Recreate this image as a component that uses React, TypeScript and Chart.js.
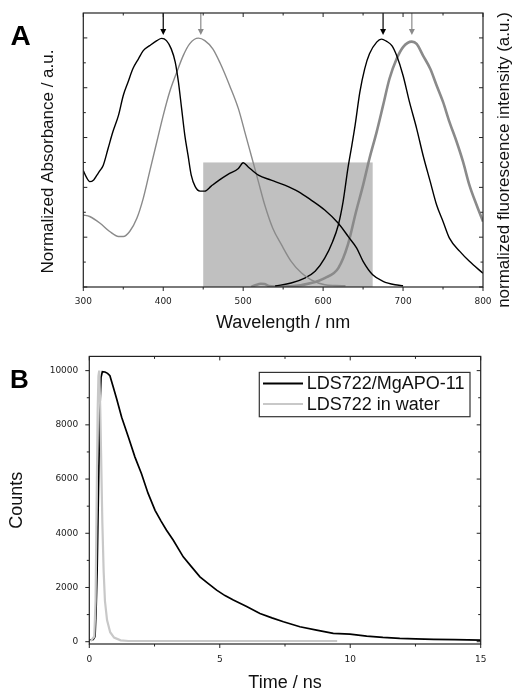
import React, { useEffect, useRef } from "react";
import { Chart, registerables } from "chart.js";

Chart.register(...registerables);

const FONT = "'Liberation Sans', Arial, sans-serif";
const TICK_FONT = "'DejaVu Sans', sans-serif";

// ---------------- Panel A data ----------------
const WL_TICKS = [300, 400, 500, 600, 700, 800];
const WL_MINOR = [350, 450, 550, 650, 750];
const NORM_TICKS = [0, 0.2, 0.4, 0.6, 0.8, 1.0];
const NORM_MINOR = [0.1, 0.3, 0.5, 0.7, 0.9];

const ABS_MG_NM = [300, 304, 308, 313, 317, 321, 325, 331, 337, 344, 350, 356, 362, 369, 375, 383, 392, 398, 404, 410, 415, 419, 423, 427, 431, 435, 440, 446, 452, 460, 470, 481, 494, 500, 506, 519, 535, 552, 569, 585, 602, 619, 632, 642, 650, 662, 675, 690, 700];
const ABS_MG_VAL = [0.467, 0.44, 0.423, 0.43, 0.449, 0.468, 0.489, 0.556, 0.623, 0.689, 0.769, 0.823, 0.876, 0.916, 0.949, 0.969, 0.989, 0.998, 0.989, 0.956, 0.903, 0.823, 0.716, 0.609, 0.529, 0.449, 0.403, 0.385, 0.385, 0.405, 0.429, 0.452, 0.476, 0.499, 0.483, 0.449, 0.429, 0.409, 0.383, 0.349, 0.309, 0.256, 0.2, 0.156, 0.103, 0.049, 0.023, 0.009, 0.005];

const ABS_W_NM = [300, 308, 321, 333, 344, 350, 358, 367, 375, 383, 392, 400, 408, 417, 425, 433, 444, 452, 462, 471, 483, 494, 502, 510, 519, 527, 537, 548, 560, 573, 585, 602, 615, 628];
const ABS_W_VAL = [0.289, 0.283, 0.256, 0.223, 0.203, 0.203, 0.223, 0.276, 0.356, 0.463, 0.583, 0.689, 0.783, 0.863, 0.929, 0.976, 0.999, 0.989, 0.956, 0.9, 0.809, 0.716, 0.623, 0.529, 0.423, 0.329, 0.236, 0.169, 0.103, 0.056, 0.029, 0.009, 0.006, 0.005];

const EM_MG_NM = [540, 560, 577, 590, 602, 612, 619, 625, 631, 636, 640, 646, 652, 658, 667, 673, 679, 686, 692, 700, 708, 717, 725, 734, 742, 750, 758, 771, 783, 800];
const EM_MG_VAL = [0.004, 0.016, 0.036, 0.063, 0.116, 0.183, 0.249, 0.343, 0.476, 0.57, 0.649, 0.783, 0.876, 0.936, 0.983, 0.995, 0.987, 0.969, 0.929, 0.849, 0.743, 0.636, 0.529, 0.423, 0.329, 0.263, 0.196, 0.143, 0.103, 0.055];

const EM_W_NM = [510, 516, 522, 527, 532, 540, 560, 585, 602, 619, 631, 641, 650, 658, 667, 675, 683, 692, 700, 711, 717, 725, 734, 742, 750, 758, 767, 775, 783, 792, 800];
const EM_W_VAL = [0.0, 0.008, 0.013, 0.012, 0.004, 0.002, 0.003, 0.016, 0.036, 0.076, 0.17, 0.3, 0.409, 0.516, 0.623, 0.729, 0.836, 0.916, 0.963, 0.985, 0.976, 0.929, 0.876, 0.809, 0.743, 0.663, 0.583, 0.503, 0.409, 0.329, 0.263];

const ARROWS_BLACK_NM = [400, 675];
const ARROWS_GREY_NM = [447, 711];
const ARROW_TIP = 1.012;
const BAND_NM = [450, 662];
const BAND_TOP = 0.5;

// ---------------- Panel B data ----------------
const TIME_TICKS = [0, 5, 10, 15];
const TIME_MINOR = [2.5, 7.5, 12.5];
const COUNT_TICKS = [0, 2000, 4000, 6000, 8000, 10000];
const COUNT_MINOR = [1000, 3000, 5000, 7000, 9000];
const SERIES_NAMES = ["LDS722/MgAPO-11", "LDS722 in water"];

const MG_T = [0, 0.15, 0.22, 0.26, 0.3, 0.35, 0.4, 0.45, 0.5, 0.6, 0.7, 0.79, 0.92, 1.05, 1.24, 1.5, 1.75, 2.0, 2.25, 2.52, 2.75, 2.96, 3.22, 3.6, 3.92, 4.24, 4.55, 4.88, 5.2, 5.52, 6.03, 6.54, 7.0, 7.44, 8.07, 8.71, 9.35, 9.99, 10.63, 11.25, 11.9, 12.5, 13.2, 14.0, 15.0];
const MG_COUNTS = [60, 80, 190, 1170, 2600, 5500, 8400, 9750, 9960, 9950, 9900, 9815, 9385, 8950, 8280, 7545, 6810, 6196, 5480, 4847, 4450, 4110, 3742, 3129, 2761, 2393, 2150, 1902, 1700, 1534, 1300, 1043, 880, 736, 552, 429, 307, 282, 209, 160, 123, 105, 86, 75, 61];

const WATER_T = [0.05, 0.19, 0.24, 0.28, 0.32, 0.35, 0.38, 0.42, 0.46, 0.5, 0.55, 0.6, 0.68, 0.8, 0.95, 1.2, 1.5, 9.5];
const WATER_COUNTS = [20, 190, 1500, 5000, 8500, 9800, 10000, 8600, 6500, 4400, 2600, 1500, 800, 350, 150, 50, 25, 25];

// ---------------- helpers ----------------
const pts = (xs: number[], ys: number[]) => xs.map((x, i) => ({ x, y: ys[i] }));

type TickCfg = {
  xMajor: number[]; xMinor: number[]; yMajor: number[]; yMinor: number[];
  leftOut: boolean; bottomOut: boolean; topOut: boolean; rightOut: boolean;
  color: string; major: number; minor: number; frameWidth: number;
};

function frameTicks(cfg: TickCfg) {
  return {
    id: "frameTicks",
    afterDatasetsDraw(chart: any) {
      const { ctx, chartArea: a, scales } = chart;
      const xs = scales.x;
      const ys = scales.y;
      ctx.save();
      ctx.strokeStyle = cfg.color;
      ctx.lineWidth = 1;
      ctx.beginPath();
      const seg = (x1: number, y1: number, x2: number, y2: number) => {
        ctx.moveTo(x1, y1);
        ctx.lineTo(x2, y2);
      };
      const doX = (vals: number[], len: number) =>
        vals.forEach((v) => {
          const p = xs.getPixelForValue(v);
          seg(p, a.bottom, p, a.bottom + (cfg.bottomOut ? len : -len));
          seg(p, a.top, p, a.top + (cfg.topOut ? -len : len));
        });
      const doY = (vals: number[], len: number) =>
        vals.forEach((v) => {
          const p = ys.getPixelForValue(v);
          seg(a.left, p, a.left + (cfg.leftOut ? -len : len), p);
          seg(a.right, p, a.right + (cfg.rightOut ? len : -len), p);
        });
      doX(cfg.xMajor, cfg.major);
      doX(cfg.xMinor, cfg.minor);
      doY(cfg.yMajor, cfg.major);
      doY(cfg.yMinor, cfg.minor);
      ctx.stroke();
      ctx.lineWidth = cfg.frameWidth;
      ctx.strokeRect(a.left, a.top, a.right - a.left, a.bottom - a.top);
      ctx.restore();
    },
  };
}

const panelAExtras = {
  id: "panelAExtras",
  beforeDatasetsDraw(chart: any) {
    const { ctx, scales } = chart;
    const xs = scales.x;
    const ys = scales.y;
    const x1 = xs.getPixelForValue(BAND_NM[0]);
    const x2 = xs.getPixelForValue(BAND_NM[1]);
    const y1 = ys.getPixelForValue(BAND_TOP);
    const y2 = ys.getPixelForValue(0);
    ctx.save();
    ctx.fillStyle = "#c0c0c0";
    ctx.fillRect(x1, y1, x2 - x1, y2 - y1);
    ctx.restore();
  },
  afterDatasetsDraw(chart: any) {
    const { ctx, scales, chartArea: a } = chart;
    const xs = scales.x;
    const ys = scales.y;
    const tip = ys.getPixelForValue(ARROW_TIP);
    const drawArrow = (nm: number, color: string) => {
      const x = xs.getPixelForValue(nm);
      ctx.strokeStyle = color;
      ctx.fillStyle = color;
      ctx.lineWidth = 1.2;
      ctx.beginPath();
      ctx.moveTo(x, a.top);
      ctx.lineTo(x, tip - 4);
      ctx.stroke();
      ctx.beginPath();
      ctx.moveTo(x - 3, tip - 6);
      ctx.lineTo(x + 3, tip - 6);
      ctx.lineTo(x, tip);
      ctx.closePath();
      ctx.fill();
    };
    ctx.save();
    ARROWS_BLACK_NM.forEach((nm) => drawArrow(nm, "#000"));
    ARROWS_GREY_NM.forEach((nm) => drawArrow(nm, "#8a8a8a"));
    ctx.restore();
  },
  afterDraw(chart: any) {
    const { ctx } = chart;
    ctx.save();
    ctx.fillStyle = "#000";
    ctx.font = `bold 28px ${FONT}`;
    ctx.textAlign = "center";
    ctx.textBaseline = "middle";
    ctx.fillText("A", 20.5, 37);
    ctx.fillStyle = "#111";
    ctx.font = `17px ${FONT}`;
    ctx.translate(48, 161.5);
    ctx.rotate(-Math.PI / 2);
    ctx.fillText("Normalized Absorbance / a.u.", 0, 0);
    ctx.restore();
    ctx.save();
    ctx.fillStyle = "#111";
    ctx.font = `17px ${FONT}`;
    ctx.textAlign = "center";
    ctx.textBaseline = "middle";
    ctx.translate(504.5, 160);
    ctx.rotate(-Math.PI / 2);
    ctx.fillText("normalized fluorescence intensity (a.u.)", 0, 0);
    ctx.restore();
  },
};

const panelBExtras = {
  id: "panelBExtras",
  afterDraw(chart: any) {
    const { ctx, chartArea: a } = chart;
    ctx.save();
    ctx.fillStyle = "#000";
    ctx.font = `bold 26px ${FONT}`;
    ctx.textAlign = "center";
    ctx.textBaseline = "middle";
    ctx.fillText("B", 19.5, 41);
    // legend box
    const bx = a.left + 170;
    const by = a.top + 16;
    const bw = 210.7;
    const bh = 44.3;
    ctx.fillStyle = "#fff";
    ctx.fillRect(bx, by, bw, bh);
    ctx.strokeStyle = "#333";
    ctx.lineWidth = 1.2;
    ctx.strokeRect(bx, by, bw, bh);
    const colors = ["#000", "#c8c8c8"];
    const rows = [11, 31.6];
    ctx.font = `18px ${FONT}`;
    ctx.textAlign = "left";
    SERIES_NAMES.forEach((name, i) => {
      const y = by + rows[i];
      ctx.strokeStyle = colors[i];
      ctx.lineWidth = 2;
      ctx.beginPath();
      ctx.moveTo(bx + 3.7, y);
      ctx.lineTo(bx + 43.7, y);
      ctx.stroke();
      ctx.fillStyle = "#111";
      ctx.fillText(name, bx + 47.4, y + 1);
    });
    ctx.restore();
  },
};

export default function App() {
  const refA = useRef<HTMLCanvasElement | null>(null);
  const refB = useRef<HTMLCanvasElement | null>(null);

  useEffect(() => {
    const chartA = new Chart(refA.current as HTMLCanvasElement, {
      type: "line",
      data: {
        datasets: [
          { data: pts(ABS_MG_NM, ABS_MG_VAL), borderColor: "#000", borderWidth: 1.4 },
          { data: pts(ABS_W_NM, ABS_W_VAL), borderColor: "#8a8a8a", borderWidth: 1.4 },
          { data: pts(EM_MG_NM, EM_MG_VAL), borderColor: "#000", borderWidth: 1.4 },
          { data: pts(EM_W_NM, EM_W_VAL), borderColor: "#8a8a8a", borderWidth: 2.6 },
        ].map((d) => ({ ...d, pointRadius: 0, fill: false, cubicInterpolationMode: "monotone" as const })),
      },
      options: {
        responsive: false,
        animation: false,
        devicePixelRatio: 1,
        layout: { padding: { top: 13, right: 29, left: 0, bottom: 0 } },
        plugins: { legend: { display: false }, tooltip: { enabled: false } },
        scales: {
          x: {
            type: "linear",
            min: 300,
            max: 800,
            afterFit: (s: any) => { s.height = 53; },
            afterBuildTicks: (s: any) => { s.ticks = WL_TICKS.map((v) => ({ value: v })); },
            grid: { display: false, drawTicks: false },
            border: { display: false },
            ticks: {
              font: { family: TICK_FONT, size: 9 },
              color: "#222",
              padding: 9.3,
              maxRotation: 0,
              autoSkip: false,
              callback: (v: any) => String(v),
            },
            title: {
              display: true,
              text: "Wavelength / nm",
              font: { family: FONT, size: 18 },
              color: "#111",
              padding: { top: 0, bottom: 6.5 },
            },
          },
          y: {
            type: "linear",
            min: 0,
            max: 1.1,
            afterFit: (s: any) => { s.width = 83.3; },
            grid: { display: false, drawTicks: false },
            border: { display: false },
            ticks: { display: false },
          },
        },
      },
      plugins: [
        panelAExtras,
        frameTicks({
          xMajor: WL_TICKS, xMinor: WL_MINOR, yMajor: NORM_TICKS, yMinor: NORM_MINOR,
          leftOut: false, bottomOut: true, topOut: false, rightOut: false,
          color: "#222", major: 4, minor: 2.5, frameWidth: 1.2,
        }),
      ],
    } as any);

    const chartB = new Chart(refB.current as HTMLCanvasElement, {
      type: "line",
      data: {
        datasets: [
          { label: SERIES_NAMES[0], data: pts(MG_T, MG_COUNTS), borderColor: "#000", borderWidth: 1.7, order: 1 },
          { label: SERIES_NAMES[1], data: pts(WATER_T, WATER_COUNTS), borderColor: "#c8c8c8", borderWidth: 2.2, order: 0 },
        ].map((d) => ({ ...d, pointRadius: 0, fill: false, tension: 0 })),
      },
      options: {
        responsive: false,
        animation: false,
        devicePixelRatio: 1,
        layout: { padding: { top: 15.7, right: 31.3, left: 0, bottom: 0 } },
        plugins: { legend: { display: false }, tooltip: { enabled: false } },
        scales: {
          x: {
            type: "linear",
            min: 0,
            max: 15,
            afterFit: (s: any) => { s.height = 46; },
            afterBuildTicks: (s: any) => { s.ticks = TIME_TICKS.map((v) => ({ value: v })); },
            grid: { display: false, drawTicks: false },
            border: { display: false },
            ticks: {
              font: { family: TICK_FONT, size: 9 },
              color: "#222",
              padding: 10.6,
              maxRotation: 0,
              autoSkip: false,
              callback: (v: any) => String(v),
            },
            title: {
              display: true,
              text: "Time / ns",
              font: { family: FONT, size: 18 },
              color: "#111",
              padding: { top: 0, bottom: -3.8 },
            },
          },
          y: {
            type: "linear",
            min: -85,
            max: 10525,
            afterFit: (s: any) => { s.width = 89.3; },
            afterBuildTicks: (s: any) => { s.ticks = COUNT_TICKS.map((v) => ({ value: v })); },
            grid: { display: false, drawTicks: false },
            border: { display: false },
            ticks: {
              font: { family: TICK_FONT, size: 9 },
              color: "#222",
              padding: 11,
              autoSkip: false,
              callback: (v: any) => String(v),
            },
            title: {
              display: true,
              text: "Counts",
              font: { family: FONT, size: 18 },
              color: "#111",
              padding: { top: 5.9, bottom: 0 },
            },
          },
        },
      },
      plugins: [
        panelBExtras,
        frameTicks({
          xMajor: TIME_TICKS, xMinor: TIME_MINOR, yMajor: COUNT_TICKS, yMinor: COUNT_MINOR,
          leftOut: true, bottomOut: true, topOut: false, rightOut: false,
          color: "#222", major: 4, minor: 2.5, frameWidth: 1.2,
        }),
      ],
    } as any);

    return () => {
      chartA.destroy();
      chartB.destroy();
    };
  }, []);

  return (
    <div style={{ position: "absolute", left: 0, top: 0, width: 512, height: 690, background: "#fff" }}>
      <canvas ref={refA} width={512} height={340} style={{ display: "block", width: 512, height: 340 }} />
      <canvas ref={refB} width={512} height={350} style={{ display: "block", width: 512, height: 350 }} />
    </div>
  );
}
